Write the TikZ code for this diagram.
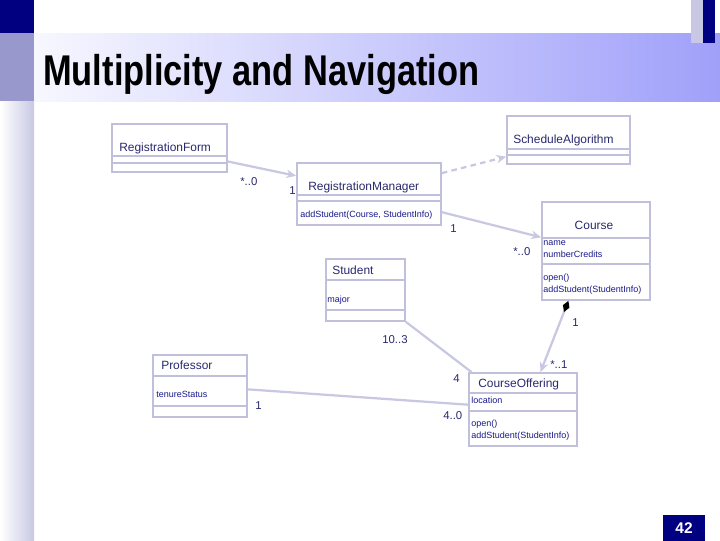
\documentclass[tikz,border=0pt]{standalone}
\usepackage{fontspec}
\setmainfont{Liberation Sans}
\newfontfamily\titlefont{Liberation Sans}[FakeStretch=0.8]
\usepackage{tikz}
\usetikzlibrary{arrows.meta,positioning,fit}
\definecolor{navybar}{RGB}{0,0,128}
\definecolor{lavmid}{RGB}{152,152,204}
\definecolor{lavband}{RGB}{160,160,250}
\definecolor{lavstrip}{RGB}{200,200,228}
\definecolor{clsline}{RGB}{192,192,220}
\definecolor{assocline}{RGB}{200,200,226}
\definecolor{clstext}{RGB}{40,40,110}
\definecolor{membtext}{RGB}{24,24,140}
\tikzset{
  % class boxes
  cls/.style={draw=clsline,line width=1.2pt,inner sep=0pt},
  sep/.style={draw=clsline,line width=1.2pt},
  cname/.style={anchor=base west,inner sep=0pt,text=clstext,font=\fontsize{8.5}{10}\selectfont},
  memb/.style={anchor=base west,inner sep=0pt,text=membtext,font=\fontsize{6.4}{7.5}\selectfont},
  % associations
  assoc/.style={draw=assocline,line width=1.6pt},
  nav/.style={assoc,-{Stealth[length=7pt,width=6pt]}},
  depend/.style={nav,dashed,dash pattern=on 4pt off 3pt},
  comp/.style={assoc,{Diamond[length=8.5pt,width=5pt,color=black,fill=black]}-{Stealth[length=7pt,width=6pt]}},
  mult/.style={anchor=base west,inner sep=0pt,text=clstext,font=\fontsize{8.1}{9.5}\selectfont},
}

\begin{document}
\begin{tikzpicture}[x=0.025cm,y=-0.025cm]
\useasboundingbox (0,0) rectangle (720,540);
%% ===== slide frame =====
\fill[navybar] (0,0) rectangle (34,33);
\fill[lavmid] (0,33) rectangle (34,101);
\shade[left color=white,right color=lavstrip] (0,101) rectangle (34,540);
\shade[left color=blue!3,right color=lavband] (34,33) rectangle (720,101);
\fill[lavstrip] (691,0) rectangle (703,43);
\fill[navybar] (703,0) rectangle (715,43);
\node[anchor=base west,inner sep=0pt,font=\titlefont\bfseries\fontsize{30.6}{32}\selectfont] (title) at (43,85) {Multiplicity and Navigation};
\node[fill=navybar,text=white,minimum width=1.05cm,minimum height=0.63cm,inner sep=0pt,font=\bfseries\fontsize{11}{12}\selectfont] (pageno) at (684,528) {42};

%% ===== classes =====
\node[cls,fit={(112,124) (227,172)}] (rform) {};
\draw[sep] (112,156) -- (227,156);
\draw[sep] (112,163) -- (227,163);
\node[cname] at (119,151) {RegistrationForm};

\node[cls,fit={(297,163) (441,225)}] (rmgr) {};
\draw[sep] (297,195) -- (441,195);
\draw[sep] (297,201) -- (441,201);
\node[cname] at (308,190) {RegistrationManager};
\node[memb] at (300,217) {addStudent(Course, StudentInfo)};

\node[cls,fit={(507,116) (630,164)}] (sched) {};
\draw[sep] (507,149) -- (630,149);
\draw[sep] (507,155) -- (630,155);
\node[cname] at (513,143) {ScheduleAlgorithm};

\node[cls,fit={(542,202) (650,300)}] (course) {};
\draw[sep] (542,238) -- (650,238);
\draw[sep] (542,264) -- (650,264);
\node[cname,anchor=base] at (594,229) {Course};
\node[memb] at (543,245) {name};
\node[memb] at (543,257) {numberCredits};
\node[memb] at (543,280) {open()};
\node[memb] at (543,292) {addStudent(StudentInfo)};

\node[cls,fit={(326,259) (405,321)}] (student) {};
\draw[sep] (326,280) -- (405,280);
\draw[sep] (326,310) -- (405,310);
\node[cname] at (332,274) {Student};
\node[memb] at (327,302) {major};

\node[cls,fit={(469,373) (577,446)}] (offering) {};
\draw[sep] (469,393) -- (577,393);
\draw[sep] (469,411) -- (577,411);
\node[cname] at (478,387) {CourseOffering};
\node[memb] at (471,403) {location};
\node[memb] at (471,426) {open()};
\node[memb] at (471,438) {addStudent(StudentInfo)};

\node[cls,fit={(153,355) (247,417)}] (prof) {};
\draw[sep] (153,376) -- (247,376);
\draw[sep] (153,406) -- (247,406);
\node[cname] at (161,369) {Professor};
\node[memb] at (156,397) {tenureStatus};

%% ===== associations =====
\draw[nav] (rform.-13) -- (rmgr.166);
\draw[depend] (rmgr.16) -- (sched.195);
\draw[nav] (rmgr.-14) -- (course.166);
\draw[comp] (course.-119) -- (offering.65);
\draw[assoc] (student.south east) -- (offering.144);
\draw[assoc] (prof.-4) -- (offering.175);

%% multiplicities
\node[mult] at (240,185) {*..0};
\node[mult] at (289,194) {1};
\node[mult] at (450,232) {1};
\node[mult] at (513,255) {*..0};
\node[mult] at (572,326) {1};
\node[mult] at (550,368) {*..1};
\node[mult] at (382,343) {10..3};
\node[mult] at (453,382) {4};
\node[mult] at (443,419) {4..0};
\node[mult] at (255,409) {1};
\end{tikzpicture}
\end{document}
